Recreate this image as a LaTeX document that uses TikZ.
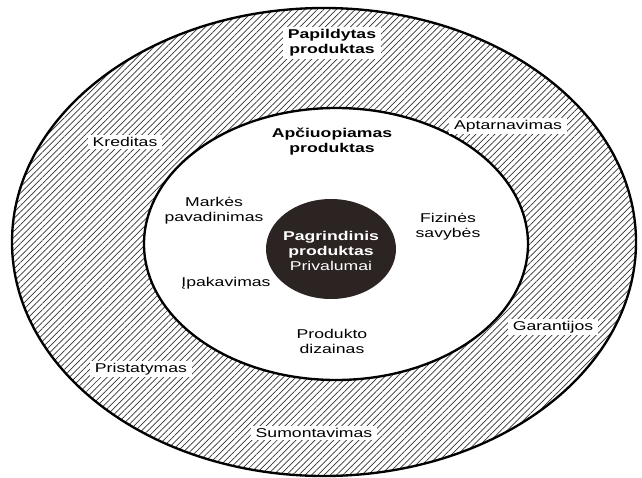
\documentclass[tikz,border=0pt]{standalone}
\usepackage{fontspec}
\setmainfont{Liberation Sans}[FakeStretch=1.38]
\usepackage{tikz}
\usetikzlibrary{patterns, patterns.meta}
\usetikzlibrary{positioning}

\definecolor{coredark}{HTML}{2B2422}

\begin{document}
\begin{tikzpicture}[x=0.03cm, y=-0.03cm,
	lbl/.style={align=center, inner sep=1.5pt, font=\fontsize{10.9}{12.8}\selectfont},
	ringlbl/.style={lbl, fill=white, inner xsep=4pt, inner ysep=2pt},
	titlelbl/.style={lbl, font=\fontsize{10.9}{12.8}\selectfont\bfseries}]
	\useasboundingbox (0,0) rectangle (642,478);
	
	% Outer ring, hatched
	\fill[pattern={Lines[angle=45, distance=3.8pt, line width=0.6pt]}, pattern color=black!80] (324,242) ellipse [x radius=312, y radius=234];
	\draw[line width=2pt] (324,242) ellipse [x radius=312, y radius=234];
	
	% Inner ring
	\filldraw[fill=white, line width=2pt] (336,244) ellipse [x radius=192, y radius=136];
	
	% Core
	\fill[coredark] (331,249) ellipse [x radius=65, y radius=50];
	
	% Labels of the outer ring
	\node[ringlbl, font=\fontsize{10.9}{12.8}\selectfont\bfseries] (papildytas) at (332,43) {Papildytas\\produktas};
	\node[ringlbl] (kreditas) at (125,142) {Kreditas};
	\node[ringlbl] (aptarnavimas) at (508,126) {Aptarnavimas};
	\node[ringlbl] (garantijos) at (553,327) {Garantijos};
	\node[ringlbl] (pristatymas) at (141,369) {Pristatymas};
	\node[ringlbl] (sumontavimas) at (314,433) {Sumontavimas};
	
	% Labels of the inner ring
	\node[titlelbl] (apciuopiamas) at (332,142) {Apčiuopiamas\\produktas};
	\node[lbl] (markes) at (214,211) {Markės\\pavadinimas};
	\node[lbl] (fizines) at (448,227) {Fizinės\\savybės};
	\node[lbl] (ipakavimas) at (226,283) {Įpakavimas};
	\node[lbl] (dizainas) at (332,341) {Produkto\\dizainas};
	
	% Core label
	\node[lbl, text=white] (pagrindinis) at (331,251) {\textbf{Pagrindinis}\\\textbf{produktas}\\Privalumai};
\end{tikzpicture}
\end{document}
